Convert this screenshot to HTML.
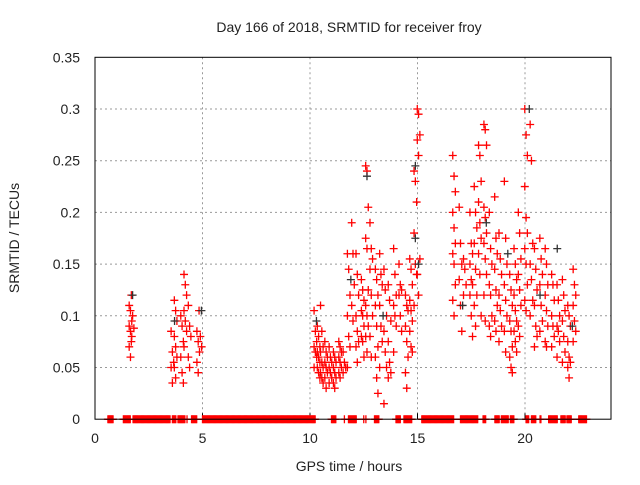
<!DOCTYPE html>
<html><head><meta charset="utf-8"><style>
body{margin:0;background:#fff;}
svg text{font-family:"Liberation Sans",sans-serif;fill:#222;}
</style></head><body>
<svg id="chart" width="640" height="480" xmlns="http://www.w3.org/2000/svg">
<text x="349" y="32" font-size="14" text-anchor="middle">Day 166 of 2018, SRMTID for receiver froy</text>
<g id="grid"></g>
<g id="ticks"></g>
<g id="marks"></g>
<rect x="95" y="57.3" width="516" height="361.9" fill="none" stroke="#000" stroke-width="1"/>
<text x="349" y="471" font-size="14" text-anchor="middle">GPS time / hours</text>
<text x="0" y="0" font-size="14" text-anchor="middle" transform="translate(19,238) rotate(-90)">SRMTID / TECUs</text>
</svg>
<script>
const xTicks=[0,5,10,15,20];
const yTicks=[0,0.05,0.1,0.15,0.2,0.25,0.3,0.35];
const yTickLabels=["0","0.05","0.1","0.15","0.2","0.25","0.3","0.35"];
const clusterHours=[1.65,1.75,3.6,3.75,4.05,4.2,4.4,4.8,4.9,10.25,10.4,10.55,10.75,10.95,11.15,11.4,11.6,11.8,12.0,12.2,12.45,12.65,12.85,13.1,13.3,13.5,13.7,13.95,14.2,14.5,14.7,14.9,15.05,16.7,17.0,17.2,17.5,17.7,17.9,18.15,18.4,18.65,18.85,19.1,19.35,19.55,19.75,20.05,20.3,20.5,20.75,21.0,21.3,21.55,21.8,22.05,22.3];
const clusterVals=[
[.11,.105,.095,.09,.085,.08,.07,.06],[.12,.1,.088,.075],
[.085,.065,.055,.05,.035],[.115,.105,.095,.08,.07,.06,.05,.04],
[.1,.09,.075,.06,.045,.035],[.14,.13,.12,.105,.095,.085,.07],
[.11,.09,.08,.06,.05],[.085,.075,.065,.055,.045],[.105,.08,.07],
[.105,.085,.075,.07,.065,.06,.05],[.09,.08,.07,.065,.06,.055,.05,.045,.04],
[.11,.085,.07,.065,.055,.05,.045,.04,.035],[.075,.065,.06,.055,.05,.045,.04,.03],
[.07,.06,.055,.05,.045,.04,.035],[.065,.06,.055,.05,.045,.04,.035,.03],
[.075,.07,.065,.06,.055,.05,.045,.04],[.065,.055,.05,.045],
[.16,.145,.12,.1,.08,.07,.05],[.19,.16,.13,.11,.095],
[.16,.14,.12,.1,.085,.075,.07,.055],[.135,.125,.115,.105,.1,.09,.08,.075,.06],
[.245,.24,.205,.175,.165,.125,.11,.1,.09,.08,.065],[.19,.165,.155,.145,.12,.1,.08,.06],
[.145,.135,.12,.11,.09,.07,.06,.04,.025],[.16,.14,.13,.11,.09,.075,.05],
[.145,.125,.1,.085,.065,.05,.015],[.13,.115,.095,.075,.055,.045,.04],
[.165,.14,.12,.11,.1,.09,.065],[.15,.13,.125,.12,.1,.085],
[.12,.11,.105,.09,.075,.06,.045,.03],[.155,.145,.13,.115,.105,.095,.085,.07,.065],
[.24,.23,.21,.18,.15,.14,.11],[.3,.295,.275,.27,.255,.155,.14,.12],
[.255,.235,.22,.2,.185,.17,.16,.15,.13,.115,.1],[.205,.17,.15,.135,.11,.085],
[.155,.145,.13,.12],[.2,.17,.16,.15,.135,.13,.12,.1,.08],
[.225,.2,.185,.17,.145,.12,.11,.09],[.265,.255,.23,.21,.19,.175,.16,.14,.1],
[.285,.28,.265,.205,.195,.18,.17,.155,.14,.12,.095],[.2,.165,.15,.13,.12,.1,.09,.08],
[.215,.175,.16,.145,.125,.11,.095,.085],[.18,.155,.14,.12,.105,.09,.075],
[.23,.175,.15,.13,.115,.1,.085,.065],[.14,.125,.11,.095,.085,.07,.06,.05,.045],
[.165,.15,.135,.12,.105,.095,.085,.075,.065],[.2,.18,.155,.14,.125,.11,.09,.08],
[.3,.275,.255,.225,.195,.18,.165,.15,.13,.115,.105],[.285,.25,.17,.15,.135,.115,.1],
[.165,.145,.125,.11,.09,.08,.07],[.175,.155,.14,.13,.11,.095,.085],
[.165,.15,.13,.12,.105,.09,.075,.07],[.14,.13,.115,.1,.09,.08,.07],
[.13,.115,.1,.09,.085,.075,.06],[.135,.12,.105,.095,.08,.065,.055],
[.11,.1,.09,.075,.06,.055,.05,.04],[.145,.13,.12,.11,.095,.085,.075]];
const blackHours=[1.75,3.7,4.95,10.3,11.9,12.65,14.9,14.9,15.05,18.2,19.2,20.2,20.7,21.5,22.2,17.1,13.4];
const blackVals=[.12,.095,.105,.095,.135,.235,.245,.175,.15,.19,.16,.3,.12,.165,.09,.11,.1];
const zeroSegments=[[0.6,0.85],[1.32,1.65],[1.77,3.49],[3.6,3.78],[3.86,4.19],[4.28,4.28],[4.49,4.74],[5.0,10.24],[11.0,11.2],[11.6,11.6],[11.79,12.17],[12.5,12.5],[12.6,12.6],[13.0,13.2],[14.0,14.2],[14.37,14.76],[15.2,16.7],[17.0,17.83],[18.05,18.18],[18.6,18.8],[18.9,19.25],[19.32,19.49],[20.05,20.2],[20.3,20.5],[20.7,20.75],[21.1,21.5],[21.67,21.9],[21.95,22.18],[22.5,22.87]];

const X0=95,X1=611,Y0=419.2,Y1=57.3,XMAX=24,YMAX=0.35;
function sx(h){return X0+(X1-X0)*h/XMAX;}
function sy(v){return Y0-(Y0-Y1)*v/YMAX;}
const NS="http://www.w3.org/2000/svg";
function mk(tag,attrs,parent){const e=document.createElementNS(NS,tag);for(const k in attrs)e.setAttribute(k,attrs[k]);parent.appendChild(e);return e;}
const grid=document.getElementById('grid'),ticks=document.getElementById('ticks'),marks=document.getElementById('marks');
xTicks.forEach(t=>{
 const x=sx(t);
 if(t>0){const g=mk('line',{x1:x,x2:x,y1:Y1,y2:Y0,stroke:'#999','stroke-dasharray':'2,3'},grid);
 
 }
 const tk=mk('line',{x1:x,x2:x,y1:Y0,y2:Y0-6,stroke:'#000'},ticks);
 
 
 const tx=mk('text',{x:x,y:Y0+24,'font-size':'14','text-anchor':'middle'},ticks);
 tx.textContent=String(t);
 
 
});
yTicks.forEach((t,i)=>{
 const y=sy(t);
 if(t>0&&t<YMAX){const g=mk('line',{x1:X0,x2:X1,y1:y,y2:y,stroke:'#999','stroke-dasharray':'2,3'},grid);
 
 }
 const tx=mk('text',{x:80,y:y+5,'font-size':'14','text-anchor':'end'},ticks);
 tx.textContent=yTickLabels[i];
 
 
});
function plus(h,v,color){
 const x=sx(h),y=sy(v);
 const p=mk('path',{d:`M${x-4} ${y}H${x+4}M${x} ${y-4}V${y+4}`,stroke:color,'stroke-width':'1.3',fill:'none'},marks);
 
 
}
zeroSegments.forEach(s=>{for(let h=s[0];h<=s[1]+1e-9;h+=0.04)plus(h,0,'#f00');});
clusterHours.forEach((h,i)=>{clusterVals[i].forEach((v,j)=>plus(h+((j%3)-1)*0.06,v,'#f00'));});
blackHours.forEach((h,i)=>plus(h,blackVals[i],'#333'));
</script>
</body></html>
